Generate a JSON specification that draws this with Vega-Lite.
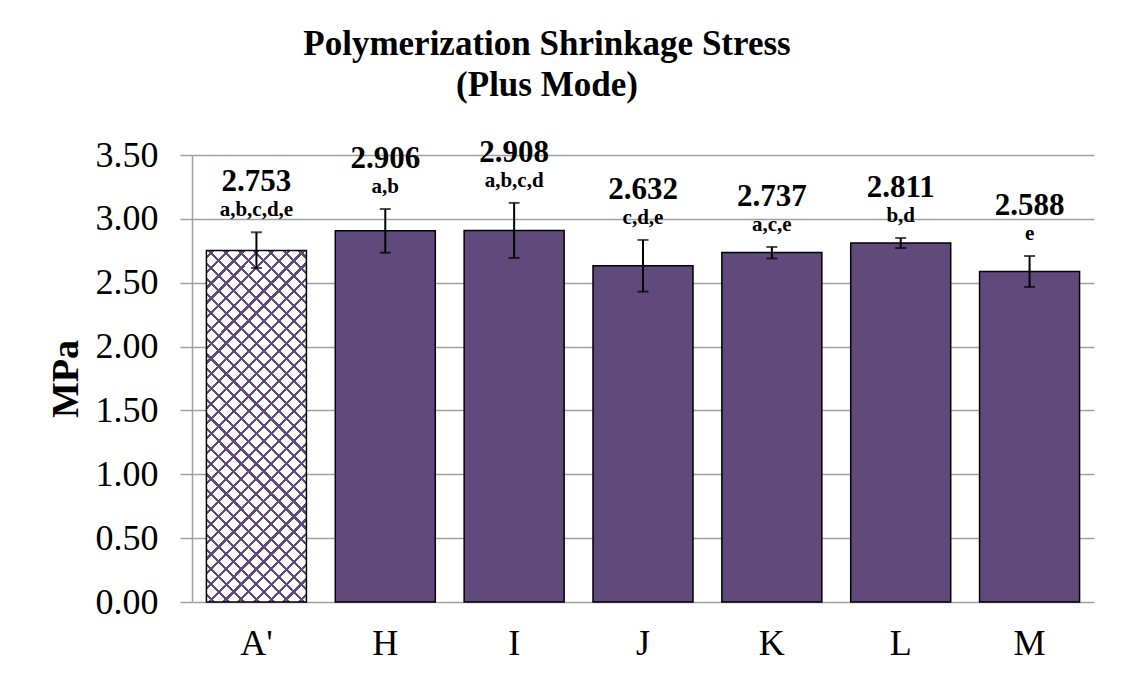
{
  "$schema": "https://vega.github.io/schema/vega-lite/v6.json",
  "width": 902,
  "height": 447,
  "autosize": {"type": "none"},
  "padding": {"left": 192, "top": 155, "right": 27, "bottom": 81},
  "background": "white",
  "config": {
    "font": "Liberation Serif",
    "title": {"font": "Liberation Serif"},
    "text": {"font": "Liberation Serif"},
    "view": {"stroke": null},
    "axis": {"labelFont": "Liberation Serif", "titleFont": "Liberation Serif", "labelColor": "black", "titleColor": "black"}
  },
  "title": {
    "text": ["Polymerization Shrinkage Stress", "(Plus Mode)"],
    "font": "Liberation Serif",
    "fontSize": 35,
    "fontWeight": "bold",
    "color": "black",
    "lineHeight": 41,
    "anchor": "middle",
    "dx": -96,
    "offset": 34
  },
  "data": {
    "values": [
      {"group": "A'", "value": 2.753, "lo": 2.615, "hi": 2.895, "letters": "a,b,c,d,e"},
      {"group": "H", "value": 2.906, "lo": 2.735, "hi": 3.077, "letters": "a,b"},
      {"group": "I", "value": 2.908, "lo": 2.694, "hi": 3.125, "letters": "a,b,c,d"},
      {"group": "J", "value": 2.632, "lo": 2.43, "hi": 2.835, "letters": "c,d,e"},
      {"group": "K", "value": 2.737, "lo": 2.69, "hi": 2.78, "letters": "a,c,e"},
      {"group": "L", "value": 2.811, "lo": 2.772, "hi": 2.85, "letters": "b,d"},
      {"group": "M", "value": 2.588, "lo": 2.467, "hi": 2.709, "letters": "e"}
    ]
  },
  "encoding": {
    "x": {
      "field": "group",
      "type": "nominal",
      "sort": ["A'", "H", "I", "J", "K", "L", "M"],
      "scale": {"paddingInner": 0.224, "paddingOuter": 0.112},
      "axis": {
        "title": null,
        "labelAngle": 0,
        "labelFontSize": 36,
        "ticks": false,
        "labelPadding": 24,
        "domain": false,
        "grid": false
      }
    }
  },
  "layer": [
    {
      "mark": {"type": "bar", "fill": "#604a7b", "stroke": "black", "strokeWidth": 1.5},
      "transform": [{"filter": "datum.group != \"A'\""}],
      "encoding": {
        "y": {
          "field": "value",
          "type": "quantitative",
          "scale": {"domain": [0, 3.5]},
          "axis": {
            "title": "MPa",
            "titleFontSize": 38,
            "titleFontWeight": "bold",
            "titleX": -126,
            "titleY": 223.5,
            "titleAngle": -90,
            "titleBaseline": "middle",
            "titleAlign": "center",
            "values": [0, 0.5, 1, 1.5, 2, 2.5, 3, 3.5],
            "format": ".2f",
            "labelFontSize": 36,
            "labelPadding": 22,
            "tickSize": 12,
            "tickColor": "#a0a0a0",
            "tickWidth": 1.5,
            "domainColor": "#a0a0a0",
            "domainWidth": 1.5,
            "gridColor": "#a0a0a0",
            "gridWidth": 1.5,
            "grid": true
          }
        }
      }
    },
    {
      "mark": {
        "type": "bar",
        "strokeWidth": 0,
        "fill": {
          "gradient": "linear",
          "x1": 0, "y1": 0, "x2": 0.338, "y2": 1.188,
          "stops": [
            {"offset": 0, "color": "white"},
            {"offset": 0.013, "color": "white"}, {"offset": 0.013, "color": "#604a7b"}, {"offset": 0.020, "color": "#604a7b"}, {"offset": 0.020, "color": "white"},
            {"offset": 0.046, "color": "white"}, {"offset": 0.046, "color": "#604a7b"}, {"offset": 0.053, "color": "#604a7b"}, {"offset": 0.053, "color": "white"},
            {"offset": 0.080, "color": "white"}, {"offset": 0.080, "color": "#604a7b"}, {"offset": 0.087, "color": "#604a7b"}, {"offset": 0.087, "color": "white"},
            {"offset": 0.113, "color": "white"}, {"offset": 0.113, "color": "#604a7b"}, {"offset": 0.120, "color": "#604a7b"}, {"offset": 0.120, "color": "white"},
            {"offset": 0.146, "color": "white"}, {"offset": 0.146, "color": "#604a7b"}, {"offset": 0.153, "color": "#604a7b"}, {"offset": 0.153, "color": "white"},
            {"offset": 0.180, "color": "white"}, {"offset": 0.180, "color": "#604a7b"}, {"offset": 0.187, "color": "#604a7b"}, {"offset": 0.187, "color": "white"},
            {"offset": 0.213, "color": "white"}, {"offset": 0.213, "color": "#604a7b"}, {"offset": 0.220, "color": "#604a7b"}, {"offset": 0.220, "color": "white"},
            {"offset": 0.246, "color": "white"}, {"offset": 0.246, "color": "#604a7b"}, {"offset": 0.253, "color": "#604a7b"}, {"offset": 0.253, "color": "white"},
            {"offset": 0.280, "color": "white"}, {"offset": 0.280, "color": "#604a7b"}, {"offset": 0.287, "color": "#604a7b"}, {"offset": 0.287, "color": "white"},
            {"offset": 0.313, "color": "white"}, {"offset": 0.313, "color": "#604a7b"}, {"offset": 0.320, "color": "#604a7b"}, {"offset": 0.320, "color": "white"},
            {"offset": 0.346, "color": "white"}, {"offset": 0.346, "color": "#604a7b"}, {"offset": 0.353, "color": "#604a7b"}, {"offset": 0.353, "color": "white"},
            {"offset": 0.380, "color": "white"}, {"offset": 0.380, "color": "#604a7b"}, {"offset": 0.387, "color": "#604a7b"}, {"offset": 0.387, "color": "white"},
            {"offset": 0.413, "color": "white"}, {"offset": 0.413, "color": "#604a7b"}, {"offset": 0.420, "color": "#604a7b"}, {"offset": 0.420, "color": "white"},
            {"offset": 0.446, "color": "white"}, {"offset": 0.446, "color": "#604a7b"}, {"offset": 0.453, "color": "#604a7b"}, {"offset": 0.453, "color": "white"},
            {"offset": 0.480, "color": "white"}, {"offset": 0.480, "color": "#604a7b"}, {"offset": 0.487, "color": "#604a7b"}, {"offset": 0.487, "color": "white"},
            {"offset": 0.513, "color": "white"}, {"offset": 0.513, "color": "#604a7b"}, {"offset": 0.520, "color": "#604a7b"}, {"offset": 0.520, "color": "white"},
            {"offset": 0.546, "color": "white"}, {"offset": 0.546, "color": "#604a7b"}, {"offset": 0.553, "color": "#604a7b"}, {"offset": 0.553, "color": "white"},
            {"offset": 0.580, "color": "white"}, {"offset": 0.580, "color": "#604a7b"}, {"offset": 0.587, "color": "#604a7b"}, {"offset": 0.587, "color": "white"},
            {"offset": 0.613, "color": "white"}, {"offset": 0.613, "color": "#604a7b"}, {"offset": 0.620, "color": "#604a7b"}, {"offset": 0.620, "color": "white"},
            {"offset": 0.646, "color": "white"}, {"offset": 0.646, "color": "#604a7b"}, {"offset": 0.653, "color": "#604a7b"}, {"offset": 0.653, "color": "white"},
            {"offset": 0.680, "color": "white"}, {"offset": 0.680, "color": "#604a7b"}, {"offset": 0.687, "color": "#604a7b"}, {"offset": 0.687, "color": "white"},
            {"offset": 0.713, "color": "white"}, {"offset": 0.713, "color": "#604a7b"}, {"offset": 0.720, "color": "#604a7b"}, {"offset": 0.720, "color": "white"},
            {"offset": 0.746, "color": "white"}, {"offset": 0.746, "color": "#604a7b"}, {"offset": 0.753, "color": "#604a7b"}, {"offset": 0.753, "color": "white"},
            {"offset": 0.780, "color": "white"}, {"offset": 0.780, "color": "#604a7b"}, {"offset": 0.787, "color": "#604a7b"}, {"offset": 0.787, "color": "white"},
            {"offset": 0.813, "color": "white"}, {"offset": 0.813, "color": "#604a7b"}, {"offset": 0.820, "color": "#604a7b"}, {"offset": 0.820, "color": "white"},
            {"offset": 0.846, "color": "white"}, {"offset": 0.846, "color": "#604a7b"}, {"offset": 0.853, "color": "#604a7b"}, {"offset": 0.853, "color": "white"},
            {"offset": 0.880, "color": "white"}, {"offset": 0.880, "color": "#604a7b"}, {"offset": 0.887, "color": "#604a7b"}, {"offset": 0.887, "color": "white"},
            {"offset": 0.913, "color": "white"}, {"offset": 0.913, "color": "#604a7b"}, {"offset": 0.920, "color": "#604a7b"}, {"offset": 0.920, "color": "white"},
            {"offset": 0.946, "color": "white"}, {"offset": 0.946, "color": "#604a7b"}, {"offset": 0.953, "color": "#604a7b"}, {"offset": 0.953, "color": "white"},
            {"offset": 0.980, "color": "white"}, {"offset": 0.980, "color": "#604a7b"}, {"offset": 0.987, "color": "#604a7b"}, {"offset": 0.987, "color": "white"},
            {"offset": 1, "color": "white"}
          ]
        }
      },
      "transform": [{"filter": "datum.group == \"A'\""}],
      "encoding": {"y": {"field": "value", "type": "quantitative"}}
    },
    {
      "mark": {
        "type": "bar",
        "stroke": "black",
        "strokeWidth": 1.5,
        "fill": {
          "gradient": "linear",
          "x1": 0, "y1": 1, "x2": 0.338, "y2": -0.188,
          "stops": [
            {"offset": 0, "color": "rgba(255,255,255,0)"},
            {"offset": 0.013, "color": "rgba(255,255,255,0)"}, {"offset": 0.013, "color": "#604a7b"}, {"offset": 0.020, "color": "#604a7b"}, {"offset": 0.020, "color": "rgba(255,255,255,0)"},
            {"offset": 0.046, "color": "rgba(255,255,255,0)"}, {"offset": 0.046, "color": "#604a7b"}, {"offset": 0.053, "color": "#604a7b"}, {"offset": 0.053, "color": "rgba(255,255,255,0)"},
            {"offset": 0.080, "color": "rgba(255,255,255,0)"}, {"offset": 0.080, "color": "#604a7b"}, {"offset": 0.087, "color": "#604a7b"}, {"offset": 0.087, "color": "rgba(255,255,255,0)"},
            {"offset": 0.113, "color": "rgba(255,255,255,0)"}, {"offset": 0.113, "color": "#604a7b"}, {"offset": 0.120, "color": "#604a7b"}, {"offset": 0.120, "color": "rgba(255,255,255,0)"},
            {"offset": 0.146, "color": "rgba(255,255,255,0)"}, {"offset": 0.146, "color": "#604a7b"}, {"offset": 0.153, "color": "#604a7b"}, {"offset": 0.153, "color": "rgba(255,255,255,0)"},
            {"offset": 0.180, "color": "rgba(255,255,255,0)"}, {"offset": 0.180, "color": "#604a7b"}, {"offset": 0.187, "color": "#604a7b"}, {"offset": 0.187, "color": "rgba(255,255,255,0)"},
            {"offset": 0.213, "color": "rgba(255,255,255,0)"}, {"offset": 0.213, "color": "#604a7b"}, {"offset": 0.220, "color": "#604a7b"}, {"offset": 0.220, "color": "rgba(255,255,255,0)"},
            {"offset": 0.246, "color": "rgba(255,255,255,0)"}, {"offset": 0.246, "color": "#604a7b"}, {"offset": 0.253, "color": "#604a7b"}, {"offset": 0.253, "color": "rgba(255,255,255,0)"},
            {"offset": 0.280, "color": "rgba(255,255,255,0)"}, {"offset": 0.280, "color": "#604a7b"}, {"offset": 0.287, "color": "#604a7b"}, {"offset": 0.287, "color": "rgba(255,255,255,0)"},
            {"offset": 0.313, "color": "rgba(255,255,255,0)"}, {"offset": 0.313, "color": "#604a7b"}, {"offset": 0.320, "color": "#604a7b"}, {"offset": 0.320, "color": "rgba(255,255,255,0)"},
            {"offset": 0.346, "color": "rgba(255,255,255,0)"}, {"offset": 0.346, "color": "#604a7b"}, {"offset": 0.353, "color": "#604a7b"}, {"offset": 0.353, "color": "rgba(255,255,255,0)"},
            {"offset": 0.380, "color": "rgba(255,255,255,0)"}, {"offset": 0.380, "color": "#604a7b"}, {"offset": 0.387, "color": "#604a7b"}, {"offset": 0.387, "color": "rgba(255,255,255,0)"},
            {"offset": 0.413, "color": "rgba(255,255,255,0)"}, {"offset": 0.413, "color": "#604a7b"}, {"offset": 0.420, "color": "#604a7b"}, {"offset": 0.420, "color": "rgba(255,255,255,0)"},
            {"offset": 0.446, "color": "rgba(255,255,255,0)"}, {"offset": 0.446, "color": "#604a7b"}, {"offset": 0.453, "color": "#604a7b"}, {"offset": 0.453, "color": "rgba(255,255,255,0)"},
            {"offset": 0.480, "color": "rgba(255,255,255,0)"}, {"offset": 0.480, "color": "#604a7b"}, {"offset": 0.487, "color": "#604a7b"}, {"offset": 0.487, "color": "rgba(255,255,255,0)"},
            {"offset": 0.513, "color": "rgba(255,255,255,0)"}, {"offset": 0.513, "color": "#604a7b"}, {"offset": 0.520, "color": "#604a7b"}, {"offset": 0.520, "color": "rgba(255,255,255,0)"},
            {"offset": 0.546, "color": "rgba(255,255,255,0)"}, {"offset": 0.546, "color": "#604a7b"}, {"offset": 0.553, "color": "#604a7b"}, {"offset": 0.553, "color": "rgba(255,255,255,0)"},
            {"offset": 0.580, "color": "rgba(255,255,255,0)"}, {"offset": 0.580, "color": "#604a7b"}, {"offset": 0.587, "color": "#604a7b"}, {"offset": 0.587, "color": "rgba(255,255,255,0)"},
            {"offset": 0.613, "color": "rgba(255,255,255,0)"}, {"offset": 0.613, "color": "#604a7b"}, {"offset": 0.620, "color": "#604a7b"}, {"offset": 0.620, "color": "rgba(255,255,255,0)"},
            {"offset": 0.646, "color": "rgba(255,255,255,0)"}, {"offset": 0.646, "color": "#604a7b"}, {"offset": 0.653, "color": "#604a7b"}, {"offset": 0.653, "color": "rgba(255,255,255,0)"},
            {"offset": 0.680, "color": "rgba(255,255,255,0)"}, {"offset": 0.680, "color": "#604a7b"}, {"offset": 0.687, "color": "#604a7b"}, {"offset": 0.687, "color": "rgba(255,255,255,0)"},
            {"offset": 0.713, "color": "rgba(255,255,255,0)"}, {"offset": 0.713, "color": "#604a7b"}, {"offset": 0.720, "color": "#604a7b"}, {"offset": 0.720, "color": "rgba(255,255,255,0)"},
            {"offset": 0.746, "color": "rgba(255,255,255,0)"}, {"offset": 0.746, "color": "#604a7b"}, {"offset": 0.753, "color": "#604a7b"}, {"offset": 0.753, "color": "rgba(255,255,255,0)"},
            {"offset": 0.780, "color": "rgba(255,255,255,0)"}, {"offset": 0.780, "color": "#604a7b"}, {"offset": 0.787, "color": "#604a7b"}, {"offset": 0.787, "color": "rgba(255,255,255,0)"},
            {"offset": 0.813, "color": "rgba(255,255,255,0)"}, {"offset": 0.813, "color": "#604a7b"}, {"offset": 0.820, "color": "#604a7b"}, {"offset": 0.820, "color": "rgba(255,255,255,0)"},
            {"offset": 0.846, "color": "rgba(255,255,255,0)"}, {"offset": 0.846, "color": "#604a7b"}, {"offset": 0.853, "color": "#604a7b"}, {"offset": 0.853, "color": "rgba(255,255,255,0)"},
            {"offset": 0.880, "color": "rgba(255,255,255,0)"}, {"offset": 0.880, "color": "#604a7b"}, {"offset": 0.887, "color": "#604a7b"}, {"offset": 0.887, "color": "rgba(255,255,255,0)"},
            {"offset": 0.913, "color": "rgba(255,255,255,0)"}, {"offset": 0.913, "color": "#604a7b"}, {"offset": 0.920, "color": "#604a7b"}, {"offset": 0.920, "color": "rgba(255,255,255,0)"},
            {"offset": 0.946, "color": "rgba(255,255,255,0)"}, {"offset": 0.946, "color": "#604a7b"}, {"offset": 0.953, "color": "#604a7b"}, {"offset": 0.953, "color": "rgba(255,255,255,0)"},
            {"offset": 0.980, "color": "rgba(255,255,255,0)"}, {"offset": 0.980, "color": "#604a7b"}, {"offset": 0.987, "color": "#604a7b"}, {"offset": 0.987, "color": "rgba(255,255,255,0)"},
            {"offset": 1, "color": "rgba(255,255,255,0)"}
          ]
        }
      },
      "transform": [{"filter": "datum.group == \"A'\""}],
      "encoding": {"y": {"field": "value", "type": "quantitative"}}
    },
    {
      "mark": {"type": "rule", "color": "black", "strokeWidth": 2},
      "encoding": {
        "y": {"field": "lo", "type": "quantitative"},
        "y2": {"field": "hi"}
      }
    },
    {
      "mark": {"type": "tick", "color": "black", "thickness": 2, "size": 11, "orient": "horizontal"},
      "encoding": {"y": {"field": "lo", "type": "quantitative"}}
    },
    {
      "mark": {"type": "tick", "color": "black", "thickness": 2, "size": 11, "orient": "horizontal"},
      "encoding": {"y": {"field": "hi", "type": "quantitative"}}
    },
    {
      "mark": {"type": "text", "font": "Liberation Serif", "fontSize": 21, "fontWeight": "bold", "color": "black", "baseline": "middle", "dy": -22},
      "encoding": {
        "y": {"field": "hi", "type": "quantitative"},
        "text": {"field": "letters"}
      }
    },
    {
      "mark": {"type": "text", "font": "Liberation Serif", "fontSize": 31, "fontWeight": "bold", "color": "black", "baseline": "middle", "dy": -50},
      "encoding": {
        "y": {"field": "hi", "type": "quantitative"},
        "text": {"field": "value", "type": "quantitative", "format": ".3f"}
      }
    }
  ]
}
